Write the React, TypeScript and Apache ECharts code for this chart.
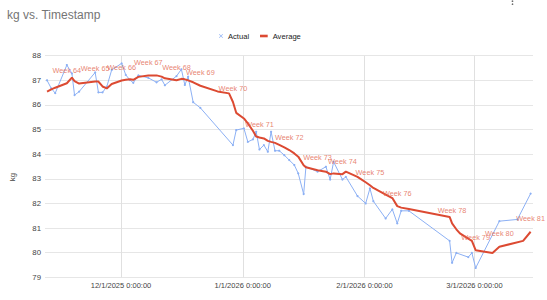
import React, { useEffect, useRef } from "react";
import * as echarts from "echarts";

const actualDates = [
  "2025-11-12 04:00", "2025-11-13 06:00", "2025-11-14 06:00", "2025-11-17 05:00", "2025-11-18 12:00",
  "2025-11-19 04:00", "2025-11-20 08:00", "2025-11-24 10:00", "2025-11-25 06:00", "2025-11-26 07:00",
  "2025-11-27 09:00", "2025-11-28 15:00", "2025-12-01 04:00", "2025-12-02 05:00", "2025-12-03 07:00",
  "2025-12-04 03:00", "2025-12-05 10:00", "2025-12-07 23:00", "2025-12-10 01:00", "2025-12-11 08:00",
  "2025-12-12 04:00", "2025-12-15 03:00", "2025-12-16 09:00", "2025-12-17 06:00", "2025-12-18 02:00",
  "2025-12-19 09:00", "2025-12-21 05:00", "2025-12-29 12:00", "2025-12-30 08:00", "2026-01-01 07:00",
  "2026-01-02 07:00", "2026-01-03 14:00", "2026-01-04 10:00", "2026-01-05 06:00", "2026-01-06 09:00",
  "2026-01-07 09:00", "2026-01-08 05:00", "2026-01-09 05:00", "2026-01-10 07:00", "2026-01-11 14:00",
  "2026-01-12 20:00", "2026-01-14 03:00", "2026-01-15 03:00", "2026-01-16 12:00", "2026-01-17 02:00",
  "2026-01-20 01:00", "2026-01-22 04:00", "2026-01-23 06:00", "2026-01-24 03:00", "2026-01-26 09:00",
  "2026-01-27 06:00", "2026-01-30 05:00", "2026-02-01 07:00", "2026-02-02 09:00", "2026-02-03 06:00",
  "2026-02-06 09:00", "2026-02-08 02:00", "2026-02-09 08:00", "2026-02-10 08:00", "2026-02-12 07:00",
  "2026-02-22 16:00", "2026-02-23 07:00", "2026-02-24 09:00", "2026-02-27 10:00", "2026-02-28 08:00",
  "2026-03-01 07:00", "2026-03-07 08:00", "2026-03-11 22:00", "2026-03-15 07:00",
];
const actualKg = [
  87.0, 86.67, 86.48, 87.62, 87.28,
  86.4, 86.54, 87.32, 86.51, 86.51,
  86.74, 87.42, 87.69, 87.22, 87.01,
  86.9, 87.2, 87.1, 86.92, 87.04,
  86.8, 87.17, 87.45, 86.81, 87.15,
  86.11, 85.88, 84.37, 84.98, 85.05,
  84.5, 84.6, 84.91, 84.19, 84.37,
  84.1, 84.91, 84.14, 84.14, 83.96,
  83.76, 83.56, 83.22, 82.38, 83.49,
  83.29, 83.49, 82.97, 83.69, 82.97,
  83.08, 82.3, 82.0, 82.61, 82.09,
  81.39, 81.76, 81.19, 81.7, 81.7,
  80.48, 79.59, 79.99, 79.82, 79.99,
  79.38, 81.28, 81.35, 82.4,
];

const avgDates = [
  "2025-11-12 04:00", "2025-11-13 06:00", "2025-11-14 06:00", "2025-11-17 05:00", "2025-11-18 12:00",
  "2025-11-19 04:00", "2025-11-20 08:00", "2025-11-24 10:00", "2025-11-25 06:00", "2025-11-26 07:00",
  "2025-11-27 09:00", "2025-11-28 15:00", "2025-12-01 04:00", "2025-12-02 05:00", "2025-12-03 07:00",
  "2025-12-04 03:00", "2025-12-05 10:00", "2025-12-07 23:00", "2025-12-10 01:00", "2025-12-11 08:00",
  "2025-12-12 04:00", "2025-12-15 03:00", "2025-12-16 09:00", "2025-12-17 06:00", "2025-12-18 02:00",
  "2025-12-19 09:00", "2025-12-21 05:00", "2025-12-25 14:00", "2025-12-28 12:00", "2025-12-29 12:00",
  "2025-12-30 08:00", "2026-01-01 07:00", "2026-01-02 07:00", "2026-01-03 14:00", "2026-01-04 10:00",
  "2026-01-05 06:00", "2026-01-06 09:00", "2026-01-07 09:00", "2026-01-08 05:00", "2026-01-09 05:00",
  "2026-01-10 07:00", "2026-01-11 14:00", "2026-01-12 20:00", "2026-01-14 03:00", "2026-01-15 03:00",
  "2026-01-16 12:00", "2026-01-17 02:00", "2026-01-20 01:00", "2026-01-22 04:00", "2026-01-23 06:00",
  "2026-01-24 03:00", "2026-01-26 09:00", "2026-01-27 06:00", "2026-01-30 05:00", "2026-02-01 07:00",
  "2026-02-02 09:00", "2026-02-03 06:00", "2026-02-06 09:00", "2026-02-08 02:00", "2026-02-09 08:00",
  "2026-02-10 08:00", "2026-02-12 07:00", "2026-02-22 16:00", "2026-02-23 07:00", "2026-02-24 09:00",
  "2026-02-25 07:00", "2026-02-27 10:00", "2026-02-28 08:00", "2026-03-01 07:00", "2026-03-05 14:00",
  "2026-03-07 08:00", "2026-03-13 09:00", "2026-03-15 07:00",
];
const avgKg = [
  86.54, 86.63, 86.7, 86.88, 87.11,
  86.97, 86.87, 86.95, 86.95, 86.75,
  86.67, 86.85, 86.99, 87.02, 87.04,
  87.02, 87.14, 87.2, 87.2, 87.15,
  87.08, 87.0, 87.06, 87.04, 87.0,
  86.92, 86.78, 86.55, 86.47, 86.12,
  85.68, 85.45, 85.25, 84.95, 84.72,
  84.68, 84.64, 84.54, 84.5, 84.46,
  84.38, 84.28, 84.17, 84.03, 83.9,
  83.55, 83.47, 83.35, 83.29, 83.19,
  83.22, 83.19, 83.29, 83.08, 82.86,
  82.74, 82.63, 82.36, 82.22, 81.89,
  81.83, 81.77, 81.45, 81.19, 80.95,
  80.78, 80.57, 80.48, 80.1, 79.99,
  80.24, 80.48, 80.85,
];

const weekNames = [
  "Week 64", "Week 65", "Week 66", "Week 67", "Week 68", "Week 69", "Week 70", "Week 71", "Week 72",
  "Week 73", "Week 74", "Week 75", "Week 76", "Week 78", "Week 79", "Week 80", "Week 81",
];
const weekDates = [
  "2025-11-17 05:00", "2025-11-24 10:00", "2025-12-01 04:00", "2025-12-07 23:00", "2025-12-15 03:00",
  "2025-12-21 05:00", "2025-12-29 12:00", "2026-01-05 06:00", "2026-01-12 20:00", "2026-01-20 01:00",
  "2026-01-26 09:00", "2026-02-02 09:00", "2026-02-09 08:00", "2026-02-23 07:00", "2026-03-01 07:00",
  "2026-03-07 08:00", "2026-03-15 07:00",
];

const yTicks = { min: 79, max: 88, interval: 1 };
const xRange = { min: "2025-11-11 15:30", max: "2026-03-15 21:30" };

const FONT = "Arial, 'Liberation Sans', sans-serif";
const BLUE = "#8cb0f4";
const RED = "#dc4a32";
const LABEL_RED = "#e2644d";

export default function App() {
  const ref = useRef<HTMLDivElement>(null);

  useEffect(() => {
    if (!ref.current) return;
    const chart = echarts.init(ref.current, undefined, { renderer: "svg" });
    const option: any = {
      animation: false,
      backgroundColor: "#ffffff",
      title: {
        text: "kg vs. Timestamp",
        left: 7,
        top: 9,
        padding: 0,
        textStyle: { fontFamily: FONT, fontSize: 12, fontWeight: "normal", color: "#757575" },
      },
      legend: [
        {
          data: [{ name: "Actual", icon: "path://M0,1L1,0L5,4L9,0L10,1L6,5L10,9L9,10L5,6L1,10L0,9L4,5Z" }],
          left: 219,
          top: 32,
          padding: 0,
          itemWidth: 4,
          itemHeight: 4,
          itemGap: 5,
          textStyle: { fontFamily: FONT, fontSize: 7.6, color: "#222" },
        },
        {
          data: [{ name: "Average", icon: "rect" }],
          left: 260,
          top: 32,
          padding: 0,
          itemWidth: 7.7,
          itemHeight: 2.6,
          textStyle: { fontFamily: FONT, fontSize: 7.6, color: "#222" },
        },
      ],
      grid: { left: 43, right: 14, top: 55.7, bottom: 22.7, containLabel: false },
      xAxis: {
        type: "time",
        min: xRange.min,
        max: xRange.max,
        minInterval: 28 * 86400000,
        splitNumber: 4,
        axisLine: { show: false },
        axisTick: { show: false },
        splitLine: { show: true, showMinLine: false, showMaxLine: false, lineStyle: { color: "#e0e0e0", width: 1 } },
        axisLabel: {
          fontFamily: FONT,
          fontSize: 7.5,
          color: "#444",
          margin: 4,
          showMinLabel: false,
          showMaxLabel: false,
          formatter: (value: number) => {
            const d = new Date(value);
            if (d.getDate() === 1 && d.getHours() === 0 && d.getMinutes() === 0) {
              return `${d.getMonth() + 1}/1/${d.getFullYear()} 0:00:00`;
            }
            return "";
          },
        },
      },
      yAxis: {
        type: "value",
        min: yTicks.min,
        max: yTicks.max,
        interval: yTicks.interval,
        name: "kg",
        nameLocation: "middle",
        nameGap: 29,
        nameTextStyle: { fontFamily: FONT, fontSize: 7.8, color: "#444", padding: [0, 21, 0, 0] },
        axisLine: { show: false },
        axisTick: { show: false },
        splitLine: { show: true, lineStyle: { color: "#e6e6e6", width: 1 } },
        axisLabel: { fontFamily: FONT, fontSize: 7.8, color: "#444", margin: 4 },
      },
      series: [
        {
          name: "Actual",
          type: "line",
          data: actualDates.map((d, i) => [d, actualKg[i]]),
          symbol: "circle",
          symbolSize: 2.2,
          showSymbol: true,
          lineStyle: { color: BLUE, width: 1 },
          itemStyle: { color: BLUE },
          z: 2,
        },
        {
          name: "Average",
          type: "line",
          data: avgDates.map((d, i) => [d, avgKg[i]]),
          symbol: "none",
          lineStyle: { color: RED, width: 2 },
          itemStyle: { color: RED },
          z: 3,
        },
        {
          name: "Weeks",
          type: "scatter",
          silent: true,
          symbolSize: 1,
          itemStyle: { color: "rgba(0,0,0,0)" },
          data: weekDates.map((d, i) => ({
            name: weekNames[i],
            value: [d, avgKg[avgDates.indexOf(d)]],
          })),
          label: {
            show: true,
            position: "top",
            distance: 9,
            formatter: "{b}",
            fontFamily: FONT,
            fontSize: 7.3,
            color: LABEL_RED,
          },
          z: 4,
        },
      ],
      graphic: [
        { type: "circle", shape: { cx: 512.5, cy: 1.2, r: 0.8 }, style: { fill: "#6b6b6b" } },
        { type: "circle", shape: { cx: 512.5, cy: 4.2, r: 0.8 }, style: { fill: "#6b6b6b" } },
      ],
    };
    chart.setOption(option);
    return () => chart.dispose();
  }, []);

  return (
    <div
      ref={ref}
      style={{ position: "fixed", left: 0, top: 0, width: 547, height: 300, overflow: "visible" }}
    />
  );
}
